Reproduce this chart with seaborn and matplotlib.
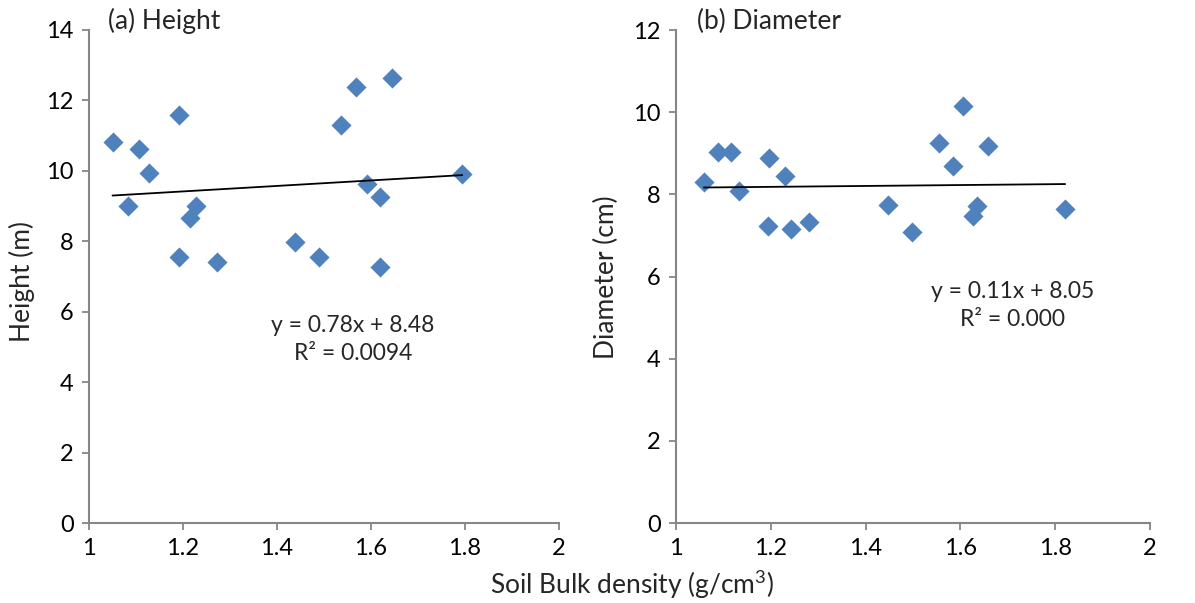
import matplotlib
matplotlib.use("Agg")
import matplotlib.pyplot as plt
import seaborn as sns
import numpy as np
import pandas as pd

# ---- data ----
height_bd = [1.050, 1.082, 1.107, 1.127, 1.191, 1.191, 1.215, 1.228, 1.272,
             1.438, 1.490, 1.536, 1.568, 1.592, 1.619, 1.619, 1.645, 1.794]
height_m = [10.83, 9.01, 10.61, 9.95, 11.59, 7.54, 8.67, 9.01, 7.41,
            7.98, 7.55, 11.29, 12.39, 9.62, 9.26, 7.28, 12.64, 9.91]

diam_bd = [1.059, 1.089, 1.117, 1.133, 1.194, 1.197, 1.230, 1.242, 1.280,
           1.448, 1.498, 1.554, 1.585, 1.605, 1.626, 1.635, 1.659, 1.821]
diam_cm = [8.29, 9.03, 9.03, 8.07, 7.22, 8.89, 8.45, 7.15, 7.32,
           7.73, 7.09, 9.26, 8.69, 10.15, 7.48, 7.72, 9.17, 7.65]

height_fit = (0.78, 8.48)
diam_fit = (0.11, 8.05)

height_eq = ["y = 0.78x + 8.48", "R² = 0.0094"]
diam_eq = ["y = 0.11x + 8.05", "R² = 0.000"]

panel_titles = ["(a) Height", "(b) Diameter"]
y_labels = ["Height (m)", "Diameter (cm)"]
x_label = "Soil Bulk density (g/cm$^{3}$)"
x_ticks = [1, 1.2, 1.4, 1.6, 1.8, 2]
x_tick_labels = ["1", "1.2", "1.4", "1.6", "1.8", "2"]
height_yticks = [0, 2, 4, 6, 8, 10, 12, 14]
diam_yticks = [0, 2, 4, 6, 8, 10, 12]

# ---- styling ----
sns.set_theme(style="white")
plt.rcParams["font.family"] = ["Lato", "DejaVu Sans"]
plt.rcParams["mathtext.fontset"] = "custom"
plt.rcParams["mathtext.rm"] = "Lato"
BLUE = "#4F81BD"
GRAY = "#868686"

W, H = 1195, 603
fig = plt.figure(figsize=(W / 100, H / 100), dpi=100)

def px_axes(x0, x1, y0, y1):
    return fig.add_axes([x0 / W, 1 - y1 / H, (x1 - x0) / W, (y1 - y0) / H])

ax1 = px_axes(89, 559, 30, 523)
ax2 = px_axes(676, 1150, 30, 523)

panels = [
    (ax1, height_bd, height_m, height_fit, height_eq, height_yticks, (353, 325), (22, 282)),
    (ax2, diam_bd, diam_cm, diam_fit, diam_eq, diam_yticks, (1013, 292), (606, 277)),
]

for i, (ax, xs, ys, fit, eq, yt, eqpos, ylpos) in enumerate(panels):
    df = pd.DataFrame({"x": xs, "y": ys})
    sns.scatterplot(data=df, x="x", y="y", ax=ax, marker="D", s=105,
                    color=BLUE, linewidth=0, zorder=3)
    xl = np.array([min(xs), max(xs)])
    line_df = pd.DataFrame({"x": xl, "y": fit[0] * xl + fit[1]})
    sns.lineplot(data=line_df, x="x", y="y", ax=ax, color="black",
                 linewidth=1.3, zorder=4)
    ax.set_xlim(1, 2)
    ax.set_ylim(yt[0], yt[-1])
    ax.set_xticks(x_ticks)
    ax.set_xticklabels(x_tick_labels)
    ax.set_yticks(yt)
    ax.set_yticklabels([str(v) for v in yt])
    for s in ["top", "right"]:
        ax.spines[s].set_visible(False)
    for s in ["left", "bottom"]:
        ax.spines[s].set_color(GRAY)
        ax.spines[s].set_linewidth(1.5)
    ax.tick_params(axis="both", direction="out", length=5, width=1.3,
                   color=GRAY, labelsize=17, labelcolor="black", pad=6,
                   left=True, bottom=True)
    ax.set_xlabel("")
    ax.set_ylabel("")
    ax.grid(False)
    fig.text(ylpos[0] / W, 1 - ylpos[1] / H, y_labels[i], rotation=90,
             ha="center", va="center", fontsize=19)
    # equation text
    fig.text(eqpos[0] / W, 1 - eqpos[1] / H, eq[0], ha="center", va="center",
             fontsize=16.5)
    fig.text(eqpos[0] / W, 1 - (eqpos[1] + 28) / H, eq[1], ha="center",
             va="center", fontsize=16.5)

fig.text(108 / W, 1 - 21 / H, panel_titles[0], ha="left", va="center", fontsize=19)
fig.text(697 / W, 1 - 21 / H, panel_titles[1], ha="left", va="center", fontsize=19)
fig.text(632 / W, 1 - 584 / H, x_label, ha="center", va="center", fontsize=19)

fig.savefig("out.png", dpi=100, facecolor="white")
